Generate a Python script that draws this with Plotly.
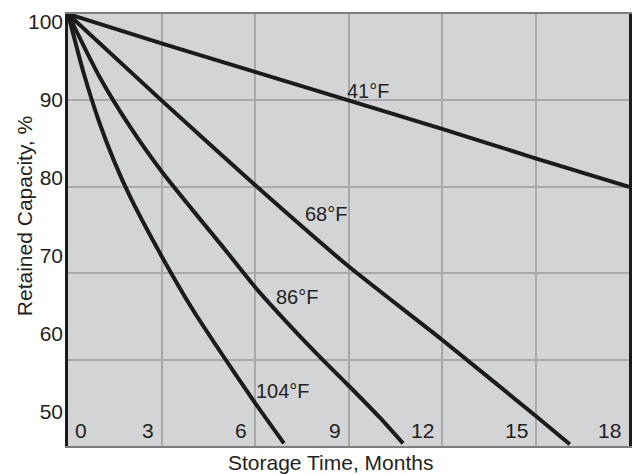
import plotly.graph_objects as go

# ---- data ----
months_41 = [0, 3, 6, 9, 12, 15, 18]
cap_41 = [100, 96.6, 93.3, 90.0, 86.7, 83.3, 80.0]

months_68 = [0, 3, 6, 9, 12, 15, 16.1]
cap_68 = [100, 90.0, 80.2, 70.8, 62.3, 53.5, 50.2]

months_86 = [0, 1, 2, 3, 4, 5, 6, 7, 8, 9, 10, 10.75]
cap_86 = [100, 92.8, 86.9, 81.8, 77.3, 72.9, 68.4, 64.4, 60.6, 57.0, 53.3, 50.3]

months_104 = [0, 0.5, 1, 1.5, 2, 3, 4, 5, 6, 6.93]
cap_104 = [100, 93.2, 87.5, 82.8, 78.8, 72.0, 65.8, 60.3, 55.0, 50.3]

series_names = ["41°F", "68°F", "86°F", "104°F"]
x_ticks = [0, 3, 6, 9, 12, 15, 18]
x_tick_labels = ["0", "3", "6", "9", "12", "15", "18"]
y_ticks = [50, 60, 70, 80, 90, 100]
y_tick_labels = ["50", "60", "70", "80", "90", "100"]
x_title = "Storage Time, Months"
y_title = "Retained Capacity, %"

FONT = "Liberation Sans, Arial, Helvetica, sans-serif"
TXT = "#231f20"
LINE = "#1c1a1a"

fig = go.Figure()
series = [(months_41, cap_41), (months_68, cap_68), (months_86, cap_86), (months_104, cap_104)]
for name, (mx, cy) in zip(series_names, series):
    fig.add_trace(go.Scatter(
        x=mx, y=cy, mode="lines", name=name,
        line=dict(color=LINE, width=4, shape="spline", smoothing=0.6),
        showlegend=False, hoverinfo="skip",
    ))

# empty trace carrying the label axis
fig.add_trace(go.Scatter(x=[None], y=[None], yaxis="y2", showlegend=False, hoverinfo="skip"))

# curve labels
label_pos = {"41°F": (9.61, 91.1), "68°F": (8.27, 76.8), "86°F": (7.34, 67.2), "104°F": (6.89, 56.4)}
annotations = []
for name in series_names:
    lx, ly = label_pos[name]
    annotations.append(dict(x=lx, y=ly, xref="x", yref="y", text=name, showarrow=False,
                            font=dict(family=FONT, size=20, color=TXT)))

# x tick labels inside the plot, beside each gridline
for v, t in zip(x_ticks, x_tick_labels):
    first = v == x_ticks[0]
    annotations.append(dict(x=v, y=0, xref="x", yref="paper", text=t, showarrow=False,
                            xanchor="left" if first else "right", yanchor="bottom",
                            xshift=5 if first else -6, yshift=2,
                            font=dict(family=FONT, size=21, color=TXT)))

# axis titles
annotations.append(dict(x=0.468, y=0, xref="paper", yref="paper", text=x_title, showarrow=False,
                        xanchor="center", yanchor="top", yshift=-3,
                        font=dict(family=FONT, size=21, color=TXT)))
annotations.append(dict(x=0, y=0.532, xref="paper", yref="paper", text=y_title, showarrow=False,
                        textangle=-90, xanchor="center", yanchor="middle", xshift=-44,
                        font=dict(family=FONT, size=21, color=TXT)))

fig.update_layout(
    width=634, height=475,
    margin=dict(l=68, r=2, t=14, b=29),
    paper_bgcolor="white",
    plot_bgcolor="#d3d4d6",
    xaxis=dict(range=[0, 18], tickvals=x_ticks, showticklabels=False,
               showgrid=True, gridcolor="#a9a9ab", gridwidth=1.5, zeroline=False,
               showline=True, linecolor="#7d7d7d", linewidth=2, mirror=True, ticks=""),
    yaxis=dict(range=[50, 100], tickvals=y_ticks, showticklabels=False,
               showgrid=True, gridcolor="#a9a9ab", gridwidth=1.5, zeroline=False,
               showline=True, linecolor=LINE, linewidth=3, mirror=True, ticks=""),
    yaxis2=dict(overlaying="y", side="left", anchor="x", range=[45.57, 101.03],
                tickvals=y_ticks, ticktext=y_tick_labels, showgrid=False, zeroline=False,
                showline=False, ticks="", ticklabelstandoff=4,
                tickfont=dict(family=FONT, size=21, color=TXT)),
    annotations=annotations,
)

fig.write_html(
    "out.html",
    config={"displayModeBar": False},
    post_script="document.body.style.margin='0';document.body.style.overflow='hidden';",
)
